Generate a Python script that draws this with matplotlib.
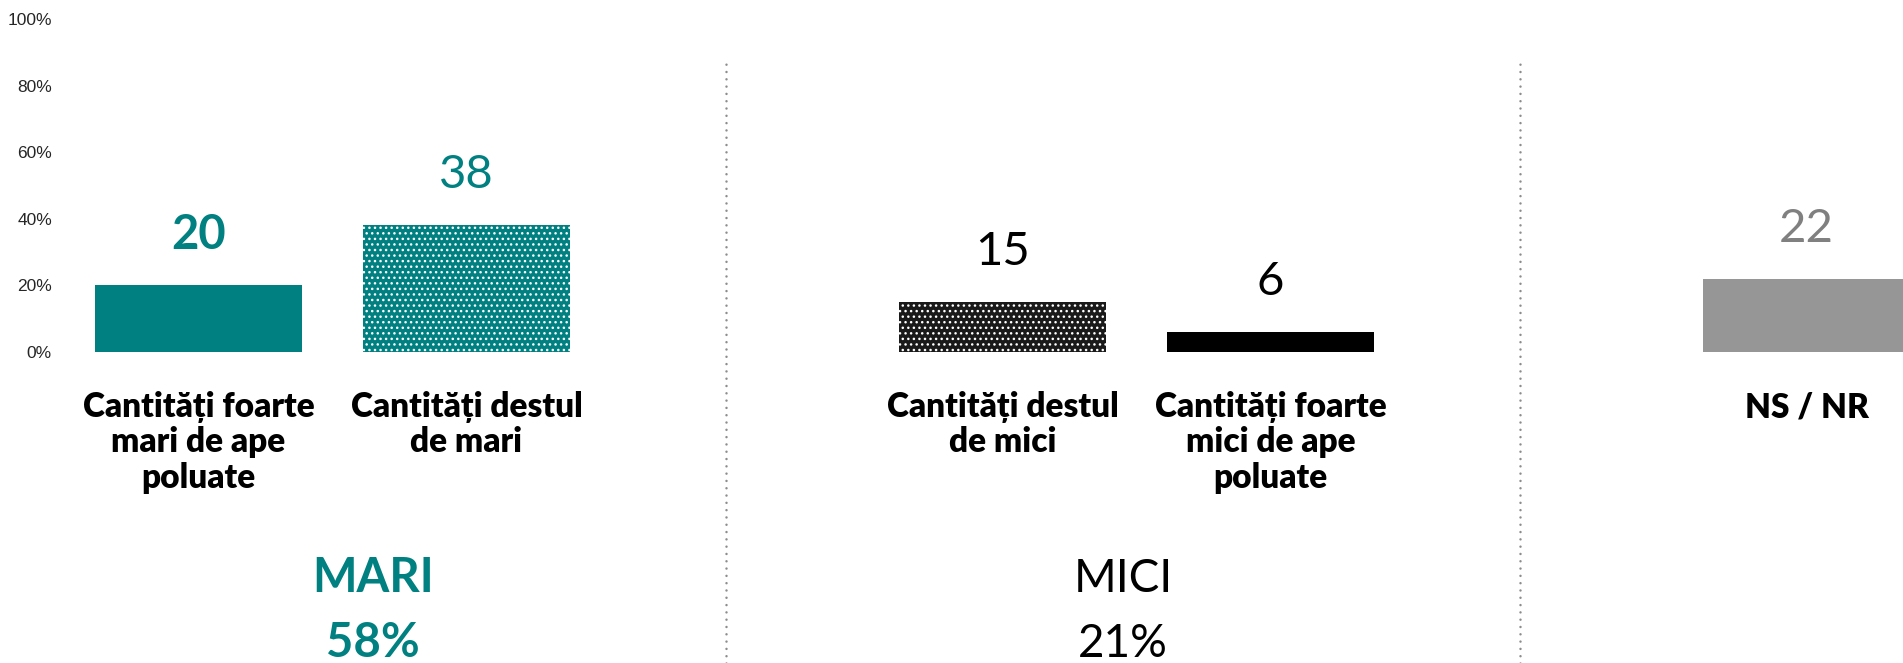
import matplotlib
matplotlib.use("Agg")
import matplotlib.pyplot as plt
from matplotlib.lines import Line2D

# data
categories = ["Cantități foarte\nmari de ape\npoluate", "Cantități destul\nde mari",
              "Cantități destul\nde mici", "Cantități foarte\nmici de ape\npoluate", "NS / NR"]
values = [20, 38, 15, 6, 22]
slots = [0, 1, 3, 4, 6]
group_names = ["MARI", "MICI"]
group_totals = [58, 21]
yticks = [0, 20, 40, 60, 80, 100]

teal = "#008080"
bar_colors = [teal, teal, "#1a1a1a", "black", "#969696"]
bar_hatches = [None, "...", "...", None, None]
value_colors = [teal, teal, "black", "black", "#808080"]
value_weights = ["bold", "normal", "normal", "normal", "normal"]
group_colors = [teal, "black"]
group_weights = ["bold", "normal"]
group_x = [0.65, 3.45]
sep_x = [1.97, 4.93]

plt.rcParams["hatch.color"] = "white"
plt.rcParams["hatch.linewidth"] = 1.0

W, H, dpi = 1903, 663, 100
fig = plt.figure(figsize=(W / dpi, H / dpi), dpi=dpi)
# axes: left at 60px, bottom (0%) at 352px from top, top (100%) at 19px
ax = fig.add_axes([60 / W, (H - 352) / H, (W - 60) / W, 333 / H])
ax.set_xlim((60 - 198.5) / 268, (W - 198.5) / 268)
ax.set_ylim(0, 100)

for s, v, c, h in zip(slots, values, bar_colors, bar_hatches):
    ax.bar(s, v, width=0.772, color=c, hatch=h, linewidth=0)

for s, v, c, w in zip(slots, values, value_colors, value_weights):
    ax.annotate(str(v), (s, v), xytext=(0, 36), textcoords="offset points",
                ha="center", va="center", fontsize=34, color=c, fontweight=w,
                family="Lato", annotation_clip=False)

for s, lab in zip(slots, categories):
    ax.text(s, -11.8, lab, ha="center", va="top", fontsize=24, fontweight="heavy",
            family="Lato", linespacing=1.12, clip_on=False)

for gx, name, tot, c, w in zip(group_x, group_names, group_totals, group_colors, group_weights):
    fs = 34 if w == "bold" else 33
    ax.text(gx, -72, name, ha="center", va="baseline", fontsize=fs,
            color=c, fontweight=w, family="Lato")
    ax.text(gx, -91.6, "%d%%" % tot, ha="center", va="baseline",
            fontsize=fs, color=c, fontweight=w, family="Lato")

# dotted separators between the groups
for sx in sep_x:
    xf = (198.5 + 268 * sx) / W
    fig.add_artist(Line2D([xf, xf], [0, (H - 61) / H], transform=fig.transFigure,
                          color="#8c8c8c", linewidth=1.8, linestyle=(0, (0.001, 2.92)),
                          dash_capstyle="round"))

ax.set_yticks(yticks)
ax.set_yticklabels(["%d%%" % t for t in yticks], family="Liberation Sans", fontsize=12.5,
                   color="#262626")
ax.tick_params(axis="y", length=0, pad=5.8)
ax.set_xticks([])
for sp in ax.spines.values():
    sp.set_visible(False)

fig.savefig("out.png", dpi=dpi)
